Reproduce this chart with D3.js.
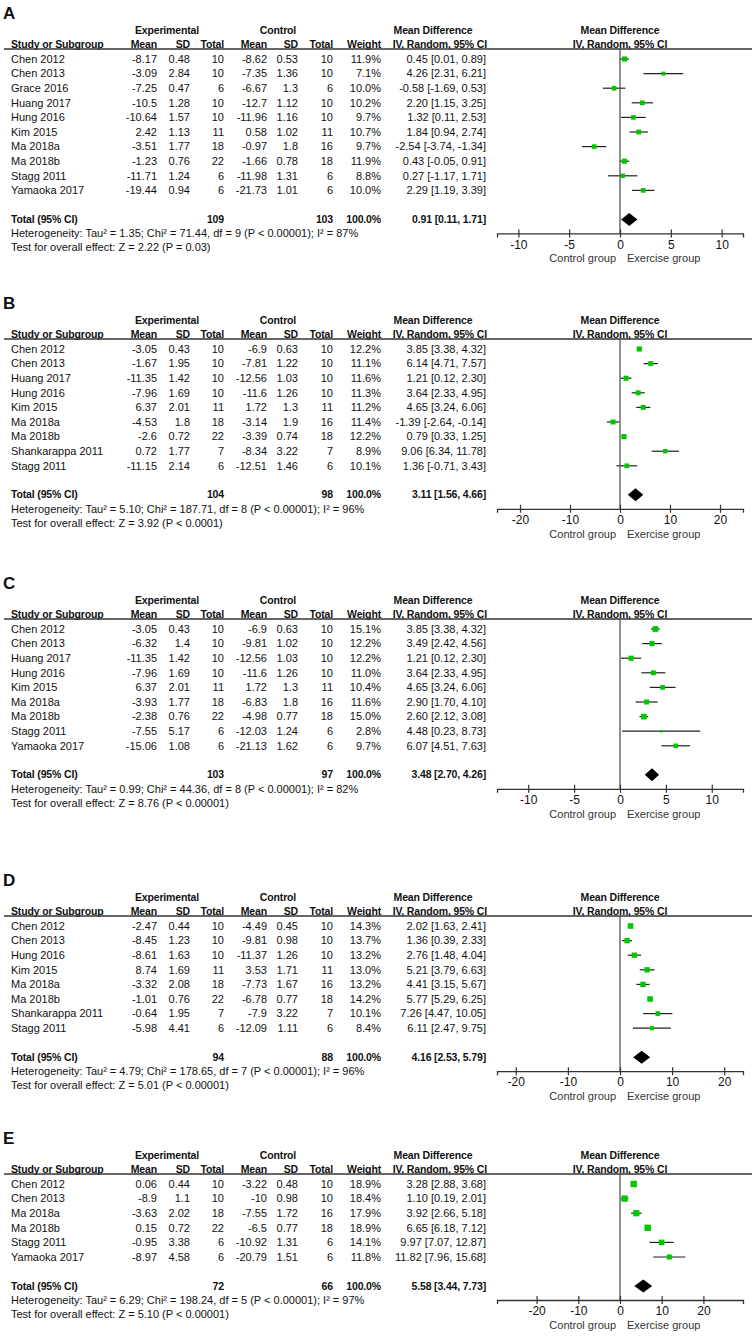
<!DOCTYPE html>
<html>
<head>
<meta charset="utf-8">
<script src="https://cdn.jsdelivr.net/npm/d3@7"></script>
<style>
body { margin: 0; background: #fff; }
text { font-family: "Liberation Sans", Arial, sans-serif; font-size: 11px; fill: #111; }
.b { font-weight: bold; font-size: 10.5px; letter-spacing: -0.15px; }
</style>
</head>
<body>
<script>
// ---- data ----
const studiesA = ['Chen 2012','Chen 2013','Grace 2016','Huang 2017','Hung 2016','Kim 2015','Ma 2018a','Ma 2018b','Stagg 2011','Yamaoka 2017']
const expMeanA = [-8.17,-3.09,-7.25,-10.5,-10.64,2.42,-3.51,-1.23,-11.71,-19.44]
const expSdA = [0.48,2.84,0.47,1.28,1.57,1.13,1.77,0.76,1.24,0.94]
const expNA = [10,10,6,10,10,11,18,22,6,6]
const ctlMeanA = [-8.62,-7.35,-6.67,-12.7,-11.96,0.58,-0.97,-1.66,-11.98,-21.73]
const ctlSdA = [0.53,1.36,1.3,1.12,1.16,1.02,1.8,0.78,1.31,1.01]
const ctlNA = [10,10,6,10,10,11,16,18,6,6]
const weightA = [11.9,7.1,10.0,10.2,9.7,10.7,9.7,11.9,8.8,10.0]
const mdA = [0.45,4.26,-0.58,2.20,1.32,1.84,-2.54,0.43,0.27,2.29]
const loA = [0.01,2.31,-1.69,1.15,0.11,0.94,-3.74,-0.05,-1.17,1.19]
const hiA = [0.89,6.21,0.53,3.25,2.53,2.74,-1.34,0.91,1.71,3.39]

const studiesB = ['Chen 2012','Chen 2013','Huang 2017','Hung 2016','Kim 2015','Ma 2018a','Ma 2018b','Shankarappa 2011','Stagg 2011']
const expMeanB = [-3.05,-1.67,-11.35,-7.96,6.37,-4.53,-2.6,0.72,-11.15]
const expSdB = [0.43,1.95,1.42,1.69,2.01,1.8,0.72,1.77,2.14]
const expNB = [10,10,10,10,11,18,22,7,6]
const ctlMeanB = [-6.9,-7.81,-12.56,-11.6,1.72,-3.14,-3.39,-8.34,-12.51]
const ctlSdB = [0.63,1.22,1.03,1.26,1.3,1.9,0.74,3.22,1.46]
const ctlNB = [10,10,10,10,11,16,18,7,6]
const weightB = [12.2,11.1,11.6,11.3,11.2,11.4,12.2,8.9,10.1]
const mdB = [3.85,6.14,1.21,3.64,4.65,-1.39,0.79,9.06,1.36]
const loB = [3.38,4.71,0.12,2.33,3.24,-2.64,0.33,6.34,-0.71]
const hiB = [4.32,7.57,2.30,4.95,6.06,-0.14,1.25,11.78,3.43]

const studiesC = ['Chen 2012','Chen 2013','Huang 2017','Hung 2016','Kim 2015','Ma 2018a','Ma 2018b','Stagg 2011','Yamaoka 2017']
const expMeanC = [-3.05,-6.32,-11.35,-7.96,6.37,-3.93,-2.38,-7.55,-15.06]
const expSdC = [0.43,1.4,1.42,1.69,2.01,1.77,0.76,5.17,1.08]
const expNC = [10,10,10,10,11,18,22,6,6]
const ctlMeanC = [-6.9,-9.81,-12.56,-11.6,1.72,-6.83,-4.98,-12.03,-21.13]
const ctlSdC = [0.63,1.02,1.03,1.26,1.3,1.8,0.77,1.24,1.62]
const ctlNC = [10,10,10,10,11,16,18,6,6]
const weightC = [15.1,12.2,12.2,11.0,10.4,11.6,15.0,2.8,9.7]
const mdC = [3.85,3.49,1.21,3.64,4.65,2.90,2.60,4.48,6.07]
const loC = [3.38,2.42,0.12,2.33,3.24,1.70,2.12,0.23,4.51]
const hiC = [4.32,4.56,2.30,4.95,6.06,4.10,3.08,8.73,7.63]

const studiesD = ['Chen 2012','Chen 2013','Hung 2016','Kim 2015','Ma 2018a','Ma 2018b','Shankarappa 2011','Stagg 2011']
const expMeanD = [-2.47,-8.45,-8.61,8.74,-3.32,-1.01,-0.64,-5.98]
const expSdD = [0.44,1.23,1.63,1.69,2.08,0.76,1.95,4.41]
const expND = [10,10,10,11,18,22,7,6]
const ctlMeanD = [-4.49,-9.81,-11.37,3.53,-7.73,-6.78,-7.9,-12.09]
const ctlSdD = [0.45,0.98,1.26,1.71,1.67,0.77,3.22,1.11]
const ctlND = [10,10,10,11,16,18,7,6]
const weightD = [14.3,13.7,13.2,13.0,13.2,14.2,10.1,8.4]
const mdD = [2.02,1.36,2.76,5.21,4.41,5.77,7.26,6.11]
const loD = [1.63,0.39,1.48,3.79,3.15,5.29,4.47,2.47]
const hiD = [2.41,2.33,4.04,6.63,5.67,6.25,10.05,9.75]

const studiesE = ['Chen 2012','Chen 2013','Ma 2018a','Ma 2018b','Stagg 2011','Yamaoka 2017']
const expMeanE = [0.06,-8.9,-3.63,0.15,-0.95,-8.97]
const expSdE = [0.44,1.1,2.02,0.72,3.38,4.58]
const expNE = [10,10,18,22,6,6]
const ctlMeanE = [-3.22,-10,-7.55,-6.5,-10.92,-20.79]
const ctlSdE = [0.48,0.98,1.72,0.77,1.31,1.51]
const ctlNE = [10,10,16,18,6,6]
const weightE = [18.9,18.4,17.9,18.9,14.1,11.8]
const mdE = [3.28,1.10,3.92,6.65,9.97,11.82]
const loE = [2.88,0.19,2.66,6.18,7.07,7.96]
const hiE = [3.68,2.01,5.18,7.12,12.87,15.68]

// panel-level values
const letters = ['A','B','C','D','E']
const expTotal = [109,104,103,94,72]
const ctlTotal = [103,98,97,88,66]
const totMd = [0.91,3.11,3.48,4.16,5.58]
const totLo = [0.11,1.56,2.70,2.53,3.44]
const totHi = [1.71,4.66,4.26,5.79,7.73]
const tau2 = [1.35,5.10,0.99,4.79,6.29]
const chi2 = [71.44,187.71,44.36,178.65,198.24]
const dfs = [9,8,8,7,5]
const i2 = [87,96,82,96,97]
const zVals = [2.22,3.92,8.76,5.01,5.10]
const pZ = ['P = 0.03','P < 0.0001','P < 0.00001','P < 0.00001','P < 0.00001']
const tickSets = [[-10,-5,0,5,10],[-20,-10,0,10,20],[-10,-5,0,5,10],[-20,-10,0,10,20],[-20,-10,0,10,20]]
const axisHalf = [12.1,24.6,13.4,23.6,29.5]

// ---- layout ----
const panelTop = [59, 349, 629, 926, 1184]
const rowH = 14.6
const colX = {name: 11, em: 157, es: 190, en: 224, cm: 267, cs: 298, cn: 333, w: 381, ci: 486}
const plotRange = [497, 743]

const svg = d3.select('body').append('svg')
  .attr('width', 754).attr('height', 1339)

const sizeScale = d3.scaleSqrt().domain([0, 20]).range([0, 6.6])
const fmtCI = (m, l, h) => `${m.toFixed(2)} [${l.toFixed(2)}, ${h.toFixed(2)}]`

const panels = [
  [studiesA, expMeanA, expSdA, expNA, ctlMeanA, ctlSdA, ctlNA, weightA, mdA, loA, hiA],
  [studiesB, expMeanB, expSdB, expNB, ctlMeanB, ctlSdB, ctlNB, weightB, mdB, loB, hiB],
  [studiesC, expMeanC, expSdC, expNC, ctlMeanC, ctlSdC, ctlNC, weightC, mdC, loC, hiC],
  [studiesD, expMeanD, expSdD, expND, ctlMeanD, ctlSdD, ctlND, weightD, mdD, loD, hiD],
  [studiesE, expMeanE, expSdE, expNE, ctlMeanE, ctlSdE, ctlNE, weightE, mdE, loE, hiE]
]

function txt(g, x, y, s, anchor, cls) {
  return g.append('text').attr('x', x).attr('y', y).attr('dy', '0.35em')
    .attr('text-anchor', anchor || 'start').attr('class', cls || null).text(s)
}

panels.forEach((cols, k) => {
  const [studies, em, es, en, cm, cs, cn, w, md, lo, hi] = cols
  const rows = studies.map((s, i) => ({s, em: em[i], es: es[i], en: en[i], cm: cm[i], cs: cs[i], cn: cn[i], w: w[i], md: md[i], lo: lo[i], hi: hi[i]}))
  const n = rows.length
  const g = svg.append('g').attr('transform', `translate(0,${panelTop[k]})`)

  const y = d3.scalePoint().domain(d3.range(n)).range([0, (n - 1) * rowH])
  const totalY = (n - 1) * rowH + 29
  const axisY = totalY + 14
  const x = d3.scaleLinear().domain([-axisHalf[k], axisHalf[k]]).range(plotRange)

  // panel letter
  txt(g, 3, -46, letters[k], 'start', 'b').style('font-size', '17px').style('letter-spacing', '0')

  // headers
  txt(g, 167, -29, 'Experimental', 'middle', 'b')
  txt(g, 278, -29, 'Control', 'middle', 'b')
  txt(g, 433, -29, 'Mean Difference', 'middle', 'b')
  txt(g, 620, -29, 'Mean Difference', 'middle', 'b')
  txt(g, colX.name, -14.5, 'Study or Subgroup', 'start', 'b')
  txt(g, colX.em, -14.5, 'Mean', 'end', 'b')
  txt(g, colX.es, -14.5, 'SD', 'end', 'b')
  txt(g, colX.en, -14.5, 'Total', 'end', 'b')
  txt(g, colX.cm, -14.5, 'Mean', 'end', 'b')
  txt(g, colX.cs, -14.5, 'SD', 'end', 'b')
  txt(g, colX.cn, -14.5, 'Total', 'end', 'b')
  txt(g, colX.w, -14.5, 'Weight', 'end', 'b')
  txt(g, colX.ci + 1, -14.5, 'IV, Random, 95% CI', 'end', 'b')
  txt(g, 620, -14.5, 'IV, Random, 95% CI', 'middle', 'b')

  g.append('line').attr('x1', 4).attr('x2', 752).attr('y1', -10).attr('y2', -10)
    .attr('stroke', '#333').attr('stroke-width', 1.4)

  // study rows
  const row = g.selectAll('g.row').data(rows).join('g').attr('class', 'row')
    .attr('transform', (d, i) => `translate(0,${y(i)})`)
  row.append('text').attr('x', colX.name).attr('dy', '0.35em').text(d => d.s)
  const numCols = [['em', v => String(v)], ['es', v => String(v)], ['en', v => String(v)],
    ['cm', v => String(v)], ['cs', v => String(v)], ['cn', v => String(v)], ['w', v => v.toFixed(1) + '%']]
  numCols.forEach(([key, f]) => {
    row.append('text').attr('x', colX[key]).attr('dy', '0.35em').attr('text-anchor', 'end').text(d => f(d[key]))
  })
  row.append('text').attr('x', colX.ci).attr('dy', '0.35em').attr('text-anchor', 'end')
    .text(d => fmtCI(d.md, d.lo, d.hi))

  // total row
  txt(g, colX.name, totalY, 'Total (95% CI)', 'start', 'b')
  txt(g, colX.en, totalY, String(expTotal[k]), 'end', 'b')
  txt(g, colX.cn, totalY, String(ctlTotal[k]), 'end', 'b')
  txt(g, colX.w, totalY, '100.0%', 'end', 'b')
  txt(g, colX.ci, totalY, fmtCI(totMd[k], totLo[k], totHi[k]), 'end', 'b')
  txt(g, colX.name, totalY + 14, `Heterogeneity: Tau² = ${tau2[k].toFixed(2)}; Chi² = ${chi2[k].toFixed(2)}, df = ${dfs[k]} (P < 0.00001); I² = ${i2[k]}%`)
  txt(g, colX.name, totalY + 28, `Test for overall effect: Z = ${zVals[k].toFixed(2)} (${pZ[k]})`)

  // plot: zero line
  g.append('line').attr('x1', x(0)).attr('x2', x(0)).attr('y1', -10).attr('y2', axisY)
    .attr('stroke', '#555').attr('stroke-width', 1.3)

  // CI whiskers and squares
  row.append('line').attr('x1', d => x(d.lo)).attr('x2', d => x(d.hi))
    .attr('stroke', '#222').attr('stroke-width', 1.2)
  row.append('rect')
    .attr('x', d => x(d.md) - sizeScale(d.w) / 2).attr('y', d => -sizeScale(d.w) / 2)
    .attr('width', d => sizeScale(d.w)).attr('height', d => sizeScale(d.w))
    .attr('fill', '#00c800')

  // pooled diamond
  g.append('path')
    .attr('d', `M${x(totLo[k])},${totalY}L${x(totMd[k])},${totalY - 6.5}L${x(totHi[k])},${totalY}L${x(totMd[k])},${totalY + 6.5}Z`)
    .attr('fill', '#000')

  // axis
  const axis = d3.axisBottom(x).tickValues(tickSets[k]).tickFormat(d => String(d))
    .tickSizeOuter(0).tickSize(4).tickPadding(0)
  const ga = g.append('g').attr('transform', `translate(0,${axisY})`).call(axis)
  ga.select('.domain').attr('stroke', '#333').attr('stroke-width', 1.3)
  ga.selectAll('.tick line').attr('y1', -4).attr('y2', 4).attr('stroke', '#333').attr('stroke-width', 1.2)
  ga.selectAll('.tick text').attr('y', 11).attr('dy', '0.35em')
    .style('font-family', '"Liberation Sans", Arial, sans-serif').style('font-size', '12px').attr('fill', '#111')

  txt(g, x(0) - 4, axisY + 25, 'Control group', 'end').style('fill', '#333')
  txt(g, x(0) + 7, axisY + 25, 'Exercise group', 'start').style('fill', '#333')
})
</script>
</body>
</html>
